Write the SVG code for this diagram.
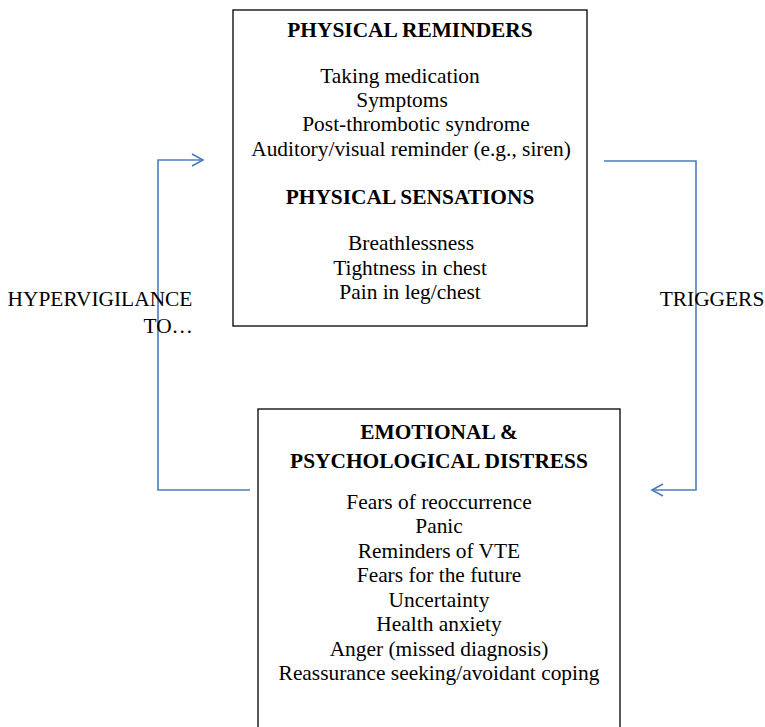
<svg xmlns="http://www.w3.org/2000/svg" width="765" height="727" viewBox="0 0 765 727">
<style>
text{font-family:"Liberation Serif","Times New Roman",serif;font-size:21.4px;fill:#000;text-anchor:middle}
.b{font-weight:bold}
.box{fill:#fff;stroke:#000;stroke-width:1.3}
.conn{fill:none;stroke:#4a7ebb;stroke-width:1.6}
</style>
<defs>
<marker id="arr" markerWidth="14" markerHeight="14" refX="12" refY="7" orient="auto" markerUnits="userSpaceOnUse">
<path d="M1,1 L12,7 L1,13" fill="none" stroke="#4a7ebb" stroke-width="1.6"/>
</marker>
</defs>
<g id="connectors">
<path class="conn" d="M250,490 H158 V160 H203" marker-end="url(#arr)"/>
<path class="conn" d="M604,161 H696 V490 H652" marker-end="url(#arr)"/>
</g>
<g id="physical">
<rect class="box" x="233" y="10" width="354" height="316"/>
<text class="b" x="410" y="37">PHYSICAL REMINDERS</text>
<text x="400" y="83">Taking medication</text>
<text x="402" y="107">Symptoms</text>
<text x="416" y="131">Post-thrombotic syndrome</text>
<text x="411" y="156">Auditory/visual reminder (e.g., siren)</text>
<text class="b" x="410" y="204">PHYSICAL SENSATIONS</text>
<text x="411" y="250">Breathlessness</text>
<text x="410" y="275">Tightness in chest</text>
<text x="410" y="299">Pain in leg/chest</text>
</g>
<g id="emotional">
<rect class="box" x="258" y="409" width="362" height="330"/>
<text class="b" x="439" y="439">EMOTIONAL &amp;</text>
<text class="b" x="439" y="468">PSYCHOLOGICAL DISTRESS</text>
<text x="439" y="509">Fears of reoccurrence</text>
<text x="439" y="533">Panic</text>
<text x="439" y="558">Reminders of VTE</text>
<text x="439" y="582">Fears for the future</text>
<text x="439" y="607">Uncertainty</text>
<text x="439" y="631">Health anxiety</text>
<text x="439" y="656">Anger (missed diagnosis)</text>
<text x="439" y="680">Reassurance seeking/avoidant coping</text>
</g>
<g id="labels">
<text x="100" y="306">HYPERVIGILANCE</text>
<text x="193" y="333" style="text-anchor:end">TO…</text>
<text x="712" y="306">TRIGGERS</text>
</g>
</svg>
